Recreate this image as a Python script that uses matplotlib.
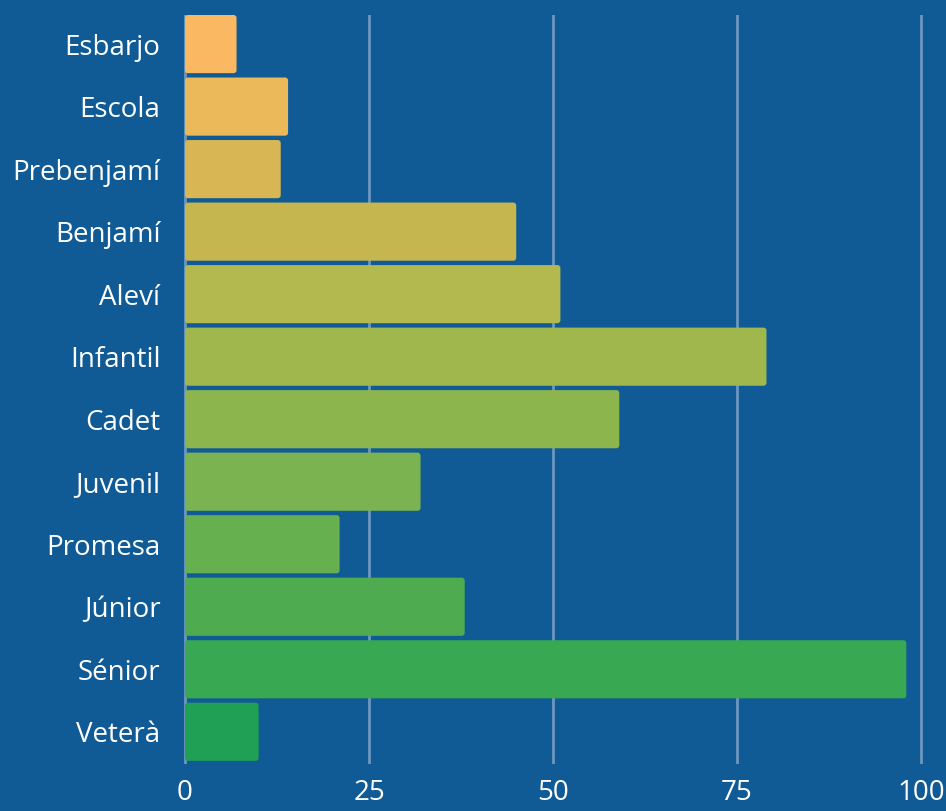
import numpy as np
import matplotlib.pyplot as plt
from matplotlib.patches import FancyBboxPatch

categories = ['Esbarjo', 'Escola', 'Prebenjamí', 'Benjamí', 'Aleví', 'Infantil',
              'Cadet', 'Juvenil', 'Promesa', 'Júnior', 'Sénior', 'Veterà']
values = [7, 14, 13, 45, 51, 79, 59, 32, 21, 38, 98, 10]
ticks = [0, 25, 50, 75, 100]

colors = ['#fbb862', '#ecb95a', '#d9b654', '#c6b64f', '#b3b94f', '#a0b74d',
          '#8cb64d', '#7ab34f', '#67b050', '#4fab50', '#38a853', '#1fa055']
bg = '#105b95'

plt.rcParams['font.family'] = ['Open Sans', 'DejaVu Sans']

fig = plt.figure(figsize=(9.46, 8.11), dpi=100)
fig.patch.set_facecolor(bg)
ax = fig.add_axes([184/946, 1 - 764/811, (930-184)/946, (764-15)/811])
ax.set_facecolor(bg)

y = np.arange(len(categories))
bars = ax.barh(y, values, height=0.93, color=colors)
ax.set_xlim(-0.14, 100 * 746 / 736 - 0.14)
ax.set_ylim(11.515, -0.465)

# swap plain bars for slightly rounded ones
px_x = 736 / 100
px_y = 749 / 11.98
for b, c in zip(bars, colors):
    b.set_visible(False)
    x0, y0 = b.get_x(), b.get_y()
    w, h = b.get_width(), b.get_height()
    p = FancyBboxPatch((x0, y0), w, h, boxstyle='round,pad=0,rounding_size=0.4',
                       mutation_aspect=px_x / px_y, facecolor=c, edgecolor='none', zorder=3)
    ax.add_patch(p)

ax.set_xticks(ticks)
ax.set_xticklabels([str(t) for t in ticks])
ax.set_yticks(y)
ax.set_yticklabels(categories)
ax.grid(axis='x', color='#6a97c0', linewidth=2, zorder=0)
ax.set_axisbelow(True)
for s in ax.spines.values():
    s.set_visible(False)
ax.tick_params(length=0, colors='white', labelsize=20)
ax.tick_params(axis='y', pad=17)
ax.tick_params(axis='x', pad=11)

plt.savefig('out.png', dpi=100, facecolor=bg)
